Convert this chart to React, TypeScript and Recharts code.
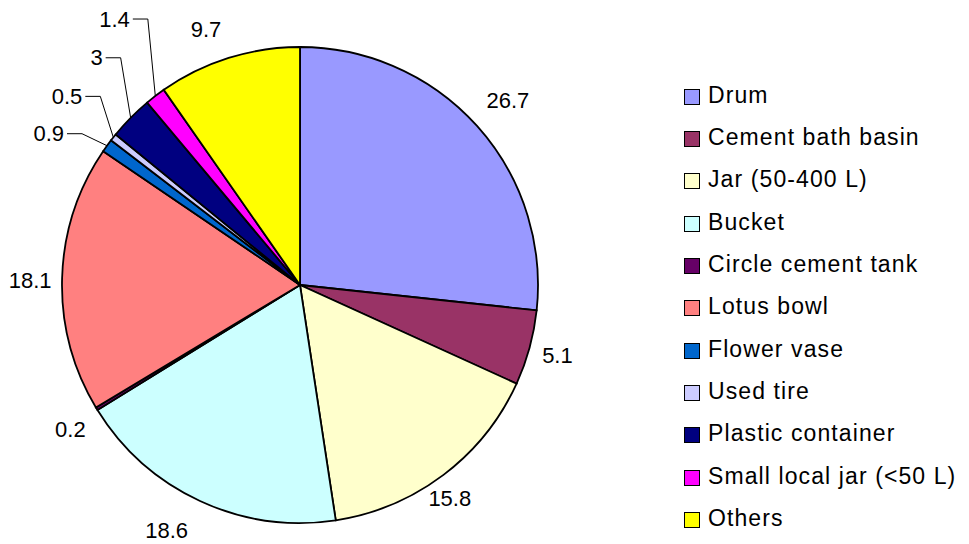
import React from 'react';
import { PieChart, Pie, Cell, Legend } from 'recharts';

const categories = [
  'Drum',
  'Cement bath basin',
  'Jar (50-400 L)',
  'Bucket',
  'Circle cement tank',
  'Lotus bowl',
  'Flower vase',
  'Used tire',
  'Plastic container',
  'Small local jar (<50 L)',
  'Others',
];
const values = [26.7, 5.1, 15.8, 18.6, 0.2, 18.1, 0.9, 0.5, 3, 1.4, 9.7];
const valueLabels = ['26.7', '5.1', '15.8', '18.6', '0.2', '18.1', '0.9', '0.5', '3', '1.4', '9.7'];
const colors = [
  '#9999FF', '#993366', '#FFFFCC', '#CCFFFF', '#660066', '#FF8080',
  '#0066CC', '#CCCCFF', '#000080', '#FF00FF', '#FFFF00',
];

const data = categories.map((name, i) => ({ name, value: values[i], label: valueLabels[i] }));

// layout tweaks for label placement (not data)
const LABEL_DIST = 32;
const LABEL_NUDGE: Record<number, [number, number]> = {
  0: [7, -4], 1: [-3, -1], 2: [-13, -2], 3: [-20, 0], 4: [1, 4], 5: [0, 3], 10: [-13, 2],
};
const LEADER_ELBOW: Record<number, [number, number]> = {
  6: [-25, -12], 7: [-13, -41], 8: [-10, -60], 9: [-7.5, -77],
};

const FONT = '"Liberation Sans", Arial, sans-serif';
const RAD = Math.PI / 180;
const LABEL_SIZE = 22;

const renderLabel = (props: any) => {
  const { cx, cy, midAngle, outerRadius, index } = props;
  const cos = Math.cos(-midAngle * RAD);
  const sin = Math.sin(-midAngle * RAD);
  const text = data[index].label;
  if (LEADER_ELBOW[index]) {
    const ax = cx + outerRadius * cos;
    const ay = cy + outerRadius * sin;
    const ex = ax + LEADER_ELBOW[index][0];
    const ey = ay + LEADER_ELBOW[index][1];
    const hx = ex - 15;
    return (
      <g key={`lbl-${index}`}>
        <polyline points={`${ax},${ay} ${ex},${ey} ${hx},${ey}`} fill="none" stroke="#000" strokeWidth={1} />
        <text x={hx - 3} y={ey} textAnchor="end" dominantBaseline="central" fontSize={LABEL_SIZE} fontFamily={FONT} fill="#000">
          {text}
        </text>
      </g>
    );
  }
  const r = outerRadius + LABEL_DIST;
  const n = LABEL_NUDGE[index] || [0, 0];
  const x = cx + r * cos + n[0];
  const y = cy + r * sin + n[1];
  return (
    <text key={`lbl-${index}`} x={x} y={y} textAnchor="middle" dominantBaseline="central" fontSize={LABEL_SIZE} fontFamily={FONT} fill="#000">
      {text}
    </text>
  );
};

const renderLegend = () => (
  <div style={{ fontFamily: FONT, fontSize: 23, letterSpacing: 1.1, color: '#000' }}>
    {data.map((d, i) => (
      <div key={d.name} style={{ display: 'flex', alignItems: 'center', height: 42.35, whiteSpace: 'nowrap' }}>
        <span
          style={{
            display: 'inline-block',
            width: 14,
            height: 14,
            background: colors[i],
            border: '1.5px solid #000',
            marginRight: 8,
            marginTop: 3,
          }}
        />
        <span>{d.name}</span>
      </div>
    ))}
  </div>
);

export default function App() {
  return (
    <div style={{ position: 'absolute', left: 0, top: 0, width: 969, height: 544, background: '#fff' }}>
      <PieChart width={969} height={544} margin={{ top: 0, right: 0, bottom: 0, left: 0 }}>
        <Pie
          data={data}
          dataKey="value"
          nameKey="name"
          cx={300}
          cy={285}
          outerRadius={238}
          startAngle={90}
          endAngle={-270}
          stroke="#000"
          strokeWidth={1.8}
          label={renderLabel}
          labelLine={false}
          isAnimationActive={false}
        >
          {data.map((d, i) => (
            <Cell key={d.name} fill={colors[i]} />
          ))}
        </Pie>
        <Legend
          content={renderLegend}
          layout="vertical"
          wrapperStyle={{ position: 'absolute', left: 684, top: 74, width: 285 }}
        />
      </PieChart>
    </div>
  );
}
